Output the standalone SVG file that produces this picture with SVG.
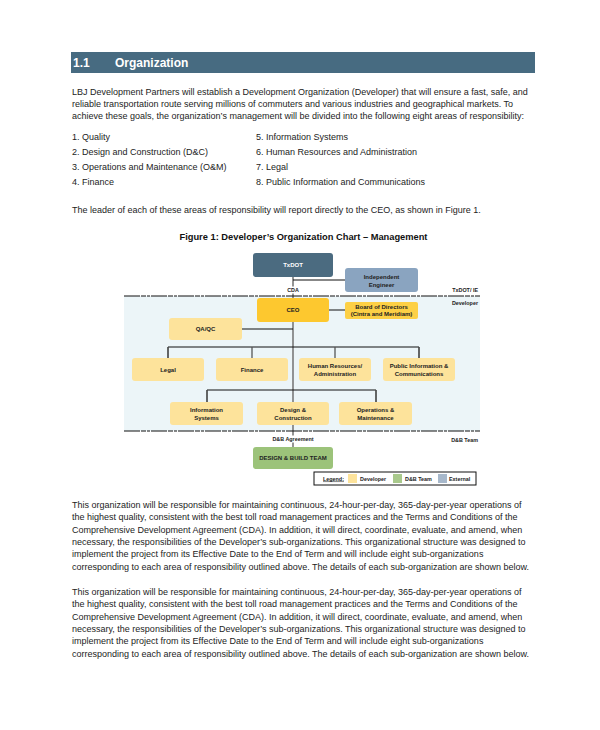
<svg xmlns="http://www.w3.org/2000/svg" width="600" height="730" viewBox="0 0 600 730">
<style>
.body{font-family:"Liberation Sans",Arial,sans-serif;font-size:9px;fill:#1c1c1c}
.hdr{font-family:"Liberation Sans",Arial,sans-serif;font-size:12px;font-weight:bold;fill:#fff}
.title{font-family:"Liberation Sans",Arial,sans-serif;font-size:9.3px;font-weight:bold;fill:#111}
.lbl{font-family:"Liberation Sans",Arial,sans-serif;font-size:6px;font-weight:bold;fill:#222;text-anchor:middle}
.sm{font-family:"Liberation Sans",Arial,sans-serif;font-size:5.4px;font-weight:bold;fill:#222}
.vline{stroke:#7a7a7a;stroke-width:1.6;fill:none}
.hline{stroke:#111;stroke-width:1;fill:none}
.drop{stroke:#555;stroke-width:1.3;fill:none}
.dash{stroke:#111;stroke-width:1;stroke-dasharray:16 1 5 1 3 1;fill:none}
</style>
<rect width="600" height="730" fill="#fff"/>
<!-- header -->
<rect x="71" y="52" width="464" height="21" fill="#476b81"/>
<text class="hdr" x="73" y="66.5">1.1</text>
<text class="hdr" x="115" y="66.5">Organization</text>
<!-- intro -->
<text class="body" x="72" y="94.5">LBJ Development Partners will establish a Development Organization (Developer) that will ensure a fast, safe, and</text>
<text class="body" x="72" y="106.5">reliable transportation route serving millions of commuters and various industries and geographical markets. To</text>
<text class="body" x="72" y="118.5">achieve these goals, the organization’s management will be divided into the following eight areas of responsibility:</text>
<text class="body" x="72" y="139.5">1. Quality</text>
<text class="body" x="72" y="154.8">2. Design and Construction (D&amp;C)</text>
<text class="body" x="72" y="170.1">3. Operations and Maintenance (O&amp;M)</text>
<text class="body" x="72" y="185.4">4. Finance</text>
<text class="body" x="256" y="139.5">5. Information Systems</text>
<text class="body" x="256" y="154.8">6. Human Resources and Administration</text>
<text class="body" x="256" y="170.1">7. Legal</text>
<text class="body" x="256" y="185.4">8. Public Information and Communications</text>
<text class="body" x="72" y="212.5">The leader of each of these areas of responsibility will report directly to the CEO, as shown in Figure 1.</text>
<text class="title" x="303.5" y="240" text-anchor="middle">Figure 1: Developer’s Organization Chart – Management</text>
<!-- chart background -->
<rect x="124" y="296" width="356" height="135" fill="#ecf5f8"/>
<!-- connectors -->
<g id="connectors">
<line class="vline" x1="293" y1="277" x2="293" y2="298"/>
<line class="hline" x1="293" y1="280" x2="345" y2="280"/>
<line class="hline" x1="329" y1="310" x2="345" y2="310"/>
<line class="vline" x1="293" y1="322" x2="293" y2="402"/>
<line class="hline" x1="242" y1="329" x2="293" y2="329"/>
<polyline class="hline" points="168,358 168,347 419,347 419,358"/>
<line class="drop" x1="168" y1="347" x2="168" y2="358"/>
<line class="drop" x1="252" y1="347" x2="252" y2="358"/>
<line class="drop" x1="335" y1="347" x2="335" y2="358"/>
<line class="drop" x1="419" y1="347" x2="419" y2="358"/>
<polyline class="hline" points="207,402 207,390 376,390 376,402"/>
<line class="drop" x1="207" y1="390" x2="207" y2="402"/>
<line class="drop" x1="376" y1="390" x2="376" y2="402"/>
<line class="vline" x1="293" y1="425" x2="293" y2="447"/>
<line class="dash" x1="124" y1="296" x2="480" y2="296"/>
<line class="dash" x1="124" y1="431" x2="480" y2="431"/>
</g>
<!-- zone labels -->
<rect x="283" y="286.5" width="20" height="7" fill="#fff"/>
<text class="sm" x="293" y="292" text-anchor="middle">CDA</text>
<text class="sm" x="478" y="292" text-anchor="end" font-size="6">TxDOT/ IE</text>
<text class="sm" x="478" y="305" text-anchor="end" font-size="6">Developer</text>
<rect x="273" y="435.5" width="40" height="7" fill="#fff"/>
<text class="sm" x="293" y="441" text-anchor="middle">D&amp;B Agreement</text>
<text class="sm" x="478" y="442" text-anchor="end" font-size="5.8">D&amp;B Team</text>
<!-- nodes -->
<g id="txdot"><rect x="253" y="253" width="80" height="24" rx="3" fill="#4b6b80"/><text class="lbl" x="293" y="267" style="fill:#fff">TxDOT</text></g>
<g id="ie"><rect x="345" y="268" width="73" height="24" rx="3" fill="#8aa4c0"/><text class="lbl" x="381.5" y="279">Independent</text><text class="lbl" x="381.5" y="286.5">Engineer</text></g>
<g id="ceo"><rect x="257" y="298" width="72" height="24" rx="3" fill="#fdc82f"/><text class="lbl" x="293" y="312">CEO</text></g>
<g id="board"><rect x="345" y="302" width="73" height="17" rx="2" fill="#fdd045"/><text class="lbl" x="381.5" y="309" font-size="5.8">Board of Directors</text><text class="lbl" x="381.5" y="316" font-size="5.8">(Cintra and Meridiam)</text></g>
<g id="qaqc"><rect x="169" y="318" width="73" height="22" rx="3" fill="#fde39b"/><text class="lbl" x="205.5" y="331">QA/QC</text></g>
<g id="legal"><rect x="132" y="358" width="72" height="23" rx="3" fill="#fde39b"/><text class="lbl" x="168" y="371.5">Legal</text></g>
<g id="finance"><rect x="216" y="358" width="72" height="23" rx="3" fill="#fde39b"/><text class="lbl" x="252" y="371.5">Finance</text></g>
<g id="hr"><rect x="299" y="358" width="72" height="23" rx="3" fill="#fde39b"/><text class="lbl" x="335" y="368">Human Resources/</text><text class="lbl" x="335" y="375.5">Administration</text></g>
<g id="pic"><rect x="383" y="358" width="72" height="23" rx="3" fill="#fde39b"/><text class="lbl" x="419" y="368">Public Information &amp;</text><text class="lbl" x="419" y="375.5">Communications</text></g>
<g id="is"><rect x="170" y="402" width="73" height="23" rx="3" fill="#fde39b"/><text class="lbl" x="206.5" y="412">Information</text><text class="lbl" x="206.5" y="419.5">Systems</text></g>
<g id="dc"><rect x="257" y="402" width="72" height="23" rx="3" fill="#fde39b"/><text class="lbl" x="293" y="412">Design &amp;</text><text class="lbl" x="293" y="419.5">Construction</text></g>
<g id="om"><rect x="339" y="402" width="73" height="23" rx="3" fill="#fde39b"/><text class="lbl" x="375.5" y="412">Operations &amp;</text><text class="lbl" x="375.5" y="419.5">Maintenance</text></g>
<g id="dbteam"><rect x="253" y="447" width="80" height="22" rx="3" fill="#9cc37a"/><text class="lbl" x="293" y="460" font-size="5.4">DESIGN &amp; BUILD TEAM</text></g>
<!-- legend -->
<g id="legend">
<rect x="314" y="472" width="162" height="13" fill="#fff" stroke="#111" stroke-width="1"/>
<text class="sm" x="323" y="480.5" text-decoration="underline">Legend:</text>
<rect x="348" y="474" width="9" height="9" fill="#fde39b"/>
<text class="sm" x="360" y="480.5">Developer</text>
<rect x="393" y="474" width="9" height="9" fill="#a9c98c"/>
<text class="sm" x="405" y="480.5">D&amp;B Team</text>
<rect x="438" y="474" width="9" height="9" fill="#a7b8cb"/>
<text class="sm" x="449" y="480.5">External</text>
</g>
<!-- paragraphs -->
<text class="body" x="72" y="507.5">This organization will be responsible for maintaining continuous, 24-hour-per-day, 365-day-per-year operations of</text>
<text class="body" x="72" y="520">the highest quality, consistent with the best toll road management practices and the Terms and Conditions of the</text>
<text class="body" x="72" y="532.5">Comprehensive Development Agreement (CDA). In addition, it will direct, coordinate, evaluate, and amend, when</text>
<text class="body" x="72" y="544.8">necessary, the responsibilities of the Developer’s sub-organizations. This organizational structure was designed to</text>
<text class="body" x="72" y="557.2">implement the project from its Effective Date to the End of Term and will include eight sub-organizations</text>
<text class="body" x="72" y="569.6">corresponding to each area of responsibility outlined above. The details of each sub-organization are shown below.</text>
<text class="body" x="72" y="594.5">This organization will be responsible for maintaining continuous, 24-hour-per-day, 365-day-per-year operations of</text>
<text class="body" x="72" y="607">the highest quality, consistent with the best toll road management practices and the Terms and Conditions of the</text>
<text class="body" x="72" y="619.5">Comprehensive Development Agreement (CDA). In addition, it will direct, coordinate, evaluate, and amend, when</text>
<text class="body" x="72" y="631.8">necessary, the responsibilities of the Developer’s sub-organizations. This organizational structure was designed to</text>
<text class="body" x="72" y="644.2">implement the project from its Effective Date to the End of Term and will include eight sub-organizations</text>
<text class="body" x="72" y="656.6">corresponding to each area of responsibility outlined above. The details of each sub-organization are shown below.</text>
</svg>
